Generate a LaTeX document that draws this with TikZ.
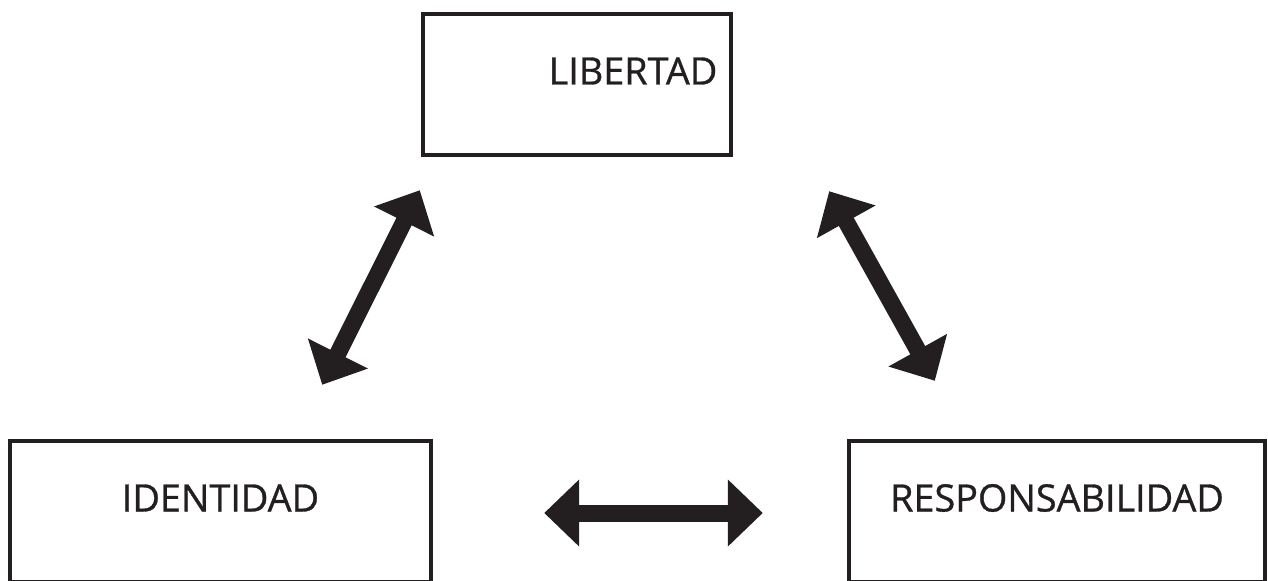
\documentclass[tikz,border=0pt]{standalone}
\usepackage{fontspec}
\setmainfont{Open Sans}
\newfontfamily\boxfont[FakeBold=0.8]{Open Sans}
\usepackage{xcolor}
\usepackage{tikz}
\usetikzlibrary{arrows.meta}

\definecolor{ink}{HTML}{231F20}

\tikzset{
  concept/.style={draw=ink, line width=0.09cm, minimum height=2.82cm,
    text height=0pt, text depth=0pt, inner sep=0pt, text=ink,
    font=\boxfont\fontsize{21.5}{25}\selectfont},
  bigarrow/.style={draw=ink, line width=0.34cm,
    {Triangle[length=0.7cm,width=1.3cm]}-{Triangle[length=0.7cm,width=1.3cm]}}
}

\begin{document}
\begin{tikzpicture}[x=0.02cm, y=-0.02cm]
\useasboundingbox (0,0) rectangle (1268,581);
\clip (0,0) rectangle (1268,581);

\node[concept, minimum width=6.16cm] (lib) at (577,84.5) {\hspace*{2.24cm}LIBERTAD};
\node[concept, minimum width=8.42cm] (ide) at (220.5,511.5) {IDENTIDAD};
\node[concept, minimum width=8.32cm] (res) at (1057,511.5) {RESPONSABILIDAD};

\coordinate (libsw) at ([shift={(-1,33)}]lib.south west);
\coordinate (libse) at ([shift={(96,34)}]lib.south east);
\coordinate (idene) at ([shift={(-111,-54)}]ide.north east);
\coordinate (ideea) at ([shift={(111,1.5)}]ide.east);
\coordinate (resnw) at ([shift={(88,-58)}]res.north west);
\coordinate (reswe) at ([shift={(-84,1.5)}]res.west);

\draw[bigarrow] (idene) -- (libsw);
\draw[bigarrow] (libse) -- (resnw);
\draw[bigarrow] (ideea) -- (reswe);
\end{tikzpicture}
\end{document}
